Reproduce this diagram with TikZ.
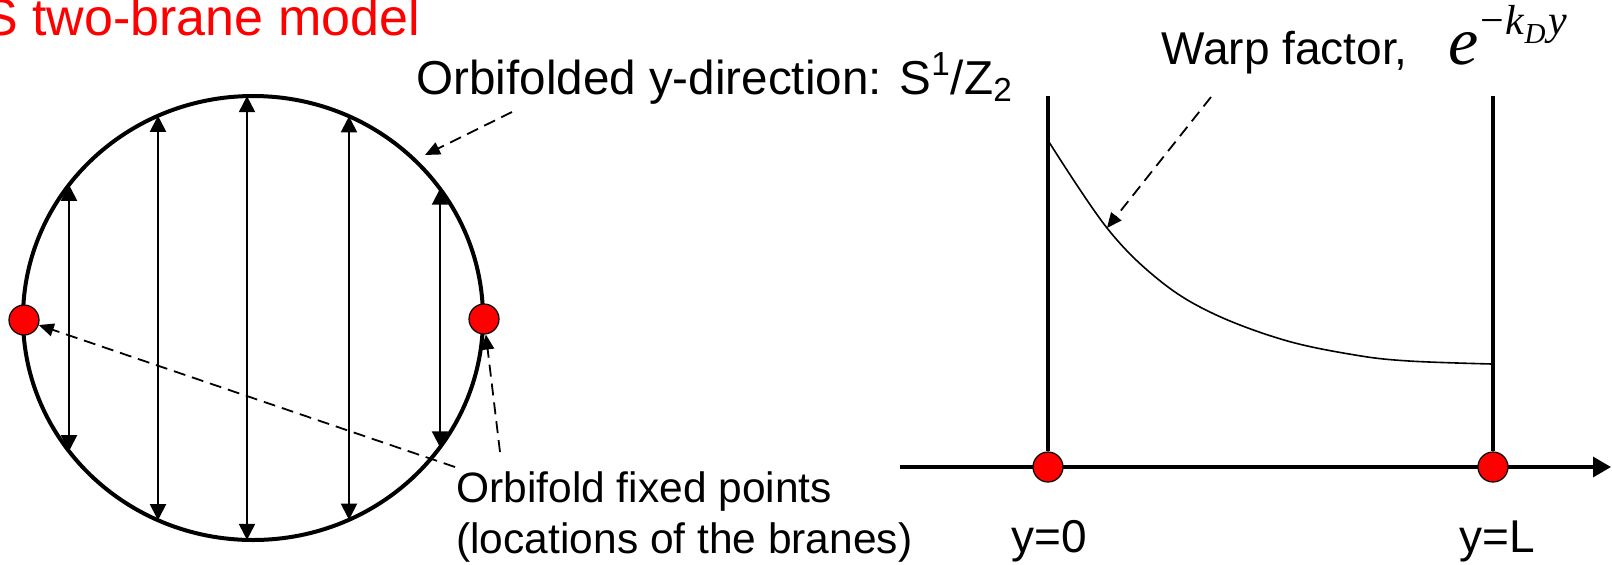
\documentclass[tikz,border=0pt]{standalone}
\usepackage{fontspec}
\setmainfont{Liberation Sans}
\newfontfamily\tms{Liberation Serif}
\usetikzlibrary{arrows.meta}
\begin{document}
\begin{tikzpicture}[x=0.5pt,y=-0.5pt,
  rim/.style={line width=2pt},
  chord/.style={line width=1pt,{Triangle[length=8pt,width=8pt]}-{Triangle[length=8pt,width=8pt]}},
  callout/.style={line width=0.9pt,dash pattern=on 6pt off 3.5pt,-{Triangle[length=7.5pt,width=6.5pt]}},
  brane/.style={circle,draw,line width=0.6pt,fill=red,minimum size=15pt,inner sep=0pt},
  wall/.style={line width=2pt},
  yaxis/.style={line width=1.6pt,-{Triangle[length=9pt,width=10pt]}},
  warpcurve/.style={line width=0.8pt},
  txt/.style={inner sep=0pt,anchor=base west},
  titletxt/.style={txt,text=red,font=\fontsize{26pt}{30pt}\selectfont},
  big/.style={txt,font=\fontsize{23.8pt}{27pt}\selectfont},
  mid/.style={txt,font=\fontsize{23pt}{27pt}\selectfont},
  small/.style={txt,font=\fontsize{21.25pt}{25pt}\selectfont}]
\path[use as bounding box] (0,0) rectangle (1612,564);

% title
\node[titletxt] (title) at (-17,35) {S two-brane model};

% orbifold circle
\draw[rim] (253,318) ellipse [x radius=230, y radius=222];
\coordinate (t1) at (69,184.8);  \coordinate (b1) at (69,451.2);
\coordinate (t2) at (158,115.8); \coordinate (b2) at (158,520.2);
\coordinate (t3) at (247,96.1);  \coordinate (b3) at (247,539.9);
\coordinate (t4) at (349,116.3); \coordinate (b4) at (349,519.7);
\coordinate (t5) at (440,188.7); \coordinate (b5) at (440,447.3);
\foreach \i in {1,...,5} \draw[chord] (t\i) -- (b\i);

\node[brane] (dL) at (24,320) {};
\node[brane] (dR) at (484,319) {};

% labels left
\node[big] (ydir) at (416,94) {Orbifolded y-direction: S\textsuperscript{1}/Z\textsubscript{2}};
\node[small] (fp1) at (456,502) {Orbifold fixed points};
\node[small] (fp2) at (456,553) {(locations of the branes)};

\coordinate (c1) at (512,112);
\coordinate (ydirTip) at (425,155);
\draw[callout] (c1) -- (ydirTip);
\coordinate (c2) at (455,467);
\draw[callout] (c2) -- (dL);
\coordinate (c3) at (500,452);
\draw[callout] (c3) -- (dR);

% right graph
\coordinate (ax0) at (900,467);
\coordinate (ax1) at (1611,467);
\draw[yaxis] (ax0) -- (ax1);
\coordinate (w0top) at (1048,96);
\coordinate (wLtop) at (1493,96);
\node[brane] (b0) at (1048,467) {};
\node[brane] (bL) at (1493,467) {};
\draw[wall] (w0top) -- (b0);
\draw[wall] (wLtop) -- (bL);
\draw[warpcurve] plot[smooth,tension=0.6] coordinates {(1049,142) (1107,228) (1159,280) (1212,313) (1284,340) (1355,355) (1409,361) (1492,364)};

\node[mid] (warp) at (1161,64) {Warp factor,};
\node[txt] (wf) at (1448,64) {{\tms\fontsize{34pt}{36pt}\selectfont\itshape e}\hspace{1pt}\raisebox{15pt}{\tms\fontsize{21pt}{23pt}\selectfont −\hspace{0.5pt}\textit{k}\raisebox{-4.5pt}{\fontsize{14.5pt}{16pt}\selectfont\itshape D}\hspace{1.5pt}\textit{y}}};
\coordinate (c4) at (1211,97);
\coordinate (warpTip) at (1107,228);
\draw[callout] (c4) -- (warpTip);

\node[mid] (y0) at (1011,552) {y=0};
\node[mid] (yL) at (1459,552) {y=L};
\end{tikzpicture}
\end{document}
